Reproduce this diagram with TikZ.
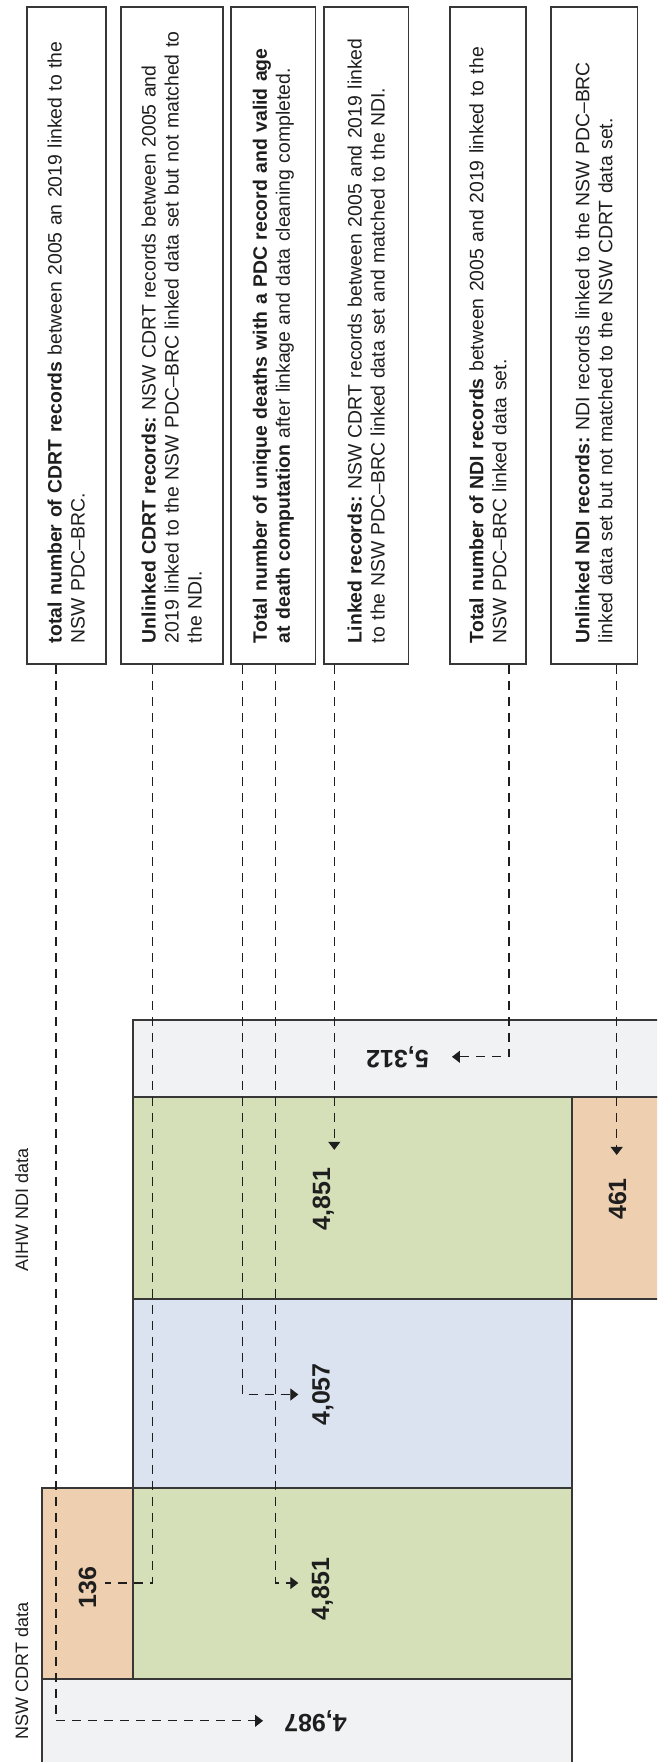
\documentclass[tikz,border=0pt]{standalone}
\usepackage{fontspec}
\setmainfont{Liberation Sans}
\usetikzlibrary{arrows.meta}
\definecolor{grayfill}{RGB}{241,242,244}
\definecolor{greenfill}{RGB}{213,224,185}
\definecolor{bluefill}{RGB}{219,226,240}
\definecolor{orangefill}{RGB}{238,208,176}
\definecolor{linec}{RGB}{55,55,55}
\definecolor{textc}{RGB}{30,30,30}
\frenchspacing
\begin{document}
\begin{tikzpicture}[x=1pt,y=-1pt,
  tbox/.style={draw=linec, line width=1.6pt, rotate=90, minimum width=657pt,
    text width=615pt, inner xsep=21pt, inner ysep=0pt, align=left, text=textc,
    font=\fontsize{19.4}{23}\selectfont},
  dbox/.style={draw=linec, line width=1.6pt},
  numlbl/.style={font=\fontsize{25}{30}\selectfont\bfseries, inner sep=0pt, text=textc},
  conn/.style={draw=textc, line width=1.1pt, dash pattern=on 9pt off 7pt},
  arrowtip/.style={-{Triangle[length=8pt,width=12pt]}},
  lab/.style={font=\fontsize{18}{22}\selectfont, rotate=90, anchor=base, text=textc}]
\useasboundingbox (0,0) rectangle (657,1762);
\clip (0,0) rectangle (657,1762);

% data boxes
\draw[dbox, fill=grayfill]   (41.7,1679)   rectangle (571.7,1800);
\draw[dbox, fill=orangefill] (41.7,1488)   rectangle (132.7,1679);
\draw[dbox, fill=greenfill]  (132.7,1488)  rectangle (571.7,1679);
\draw[dbox, fill=bluefill]   (132.7,1299)  rectangle (571.7,1488);
\draw[dbox, fill=greenfill]  (132.7,1096.7) rectangle (571.7,1299);
\draw[dbox, fill=orangefill] (571.7,1096.7) rectangle (700,1299);
\draw[dbox, fill=grayfill]   (132.7,1020)  rectangle (700,1096.7);

% axis labels
\node[lab] (lcdrt) at (28,1671) {NSW CDRT data};
\node[lab] (lndi) at (28,1210) {AIHW NDI data};

% text boxes
\node[tbox, minimum height=79pt] (b1) at (66.2,335.5)
 {\mbox{\textbf{total number of CDRT records} between 2005 an 2019 linked to the}\\
  \mbox{NSW PDC–BRC.}};
\node[tbox, minimum height=102pt] (b2) at (171.7,335.5)
 {\mbox{\textbf{Unlinked CDRT records:} NSW CDRT records between 2005 and}\\
  \mbox{2019 linked to the NSW PDC–BRC linked data set but not matched to}\\
  \mbox{the NDI.}};
\node[tbox, minimum height=84.7pt] (b3) at (273.3,335.5)
 {\mbox{\textbf{Total number of unique deaths with a PDC record and valid age}}\\
  \mbox{\textbf{at death computation} after linkage and data cleaning completed.}};
\node[tbox, minimum height=84.3pt] (b4) at (366.2,335.5)
 {\mbox{\textbf{Linked records:} NSW CDRT records between 2005 and 2019 linked}\\
  \mbox{to the NSW PDC–BRC linked data set and matched to the NDI.}};
\node[tbox, minimum height=76pt] (b5) at (488,335.5)
 {\mbox{\textbf{Total number of NDI records} between 2005 and 2019 linked to the}\\
  \mbox{NSW PDC–BRC linked data set.}};
\node[tbox, minimum height=86.6pt] (b6) at (594,335.5)
 {\mbox{\textbf{Unlinked NDI records:} NDI records linked to the NSW PDC–BRC}\\
  \mbox{linked data set but not matched to the NSW CDRT data set.}};

% numbers
\node[numlbl, rotate=180, anchor=base] (n4987) at (315.5,1714) {4,987};
\node[numlbl, rotate=90, anchor=base] (n136) at (96,1587.5) {136};
\node[numlbl, rotate=90, anchor=base] (n4851b) at (329,1589) {4,851};
\node[numlbl, rotate=90, anchor=base] (n4057) at (329.5,1394.5) {4,057};
\node[numlbl, rotate=90, anchor=base] (n4851a) at (330,1199) {4,851};
\node[numlbl, rotate=180, anchor=base] (n5312) at (397.5,1050) {5,312};
\node[numlbl, rotate=90, anchor=base] (n461) at (626,1199) {461};

% connector start points on the box edges
\coordinate (s1) at (56,0 |- b1.west);
\coordinate (s2) at (152.3,0 |- b2.west);
\coordinate (s3a) at (242.3,0 |- b3.west);
\coordinate (s3b) at (275.7,0 |- b3.west);
\coordinate (s4) at (334.3,0 |- b4.west);
\coordinate (s5) at (509,0 |- b5.west);
\coordinate (s6) at (616.7,0 |- b6.west);

% connectors
\draw[conn, arrowtip, shorten >=21pt] (s1) |- (n4987.east);
\draw[conn, shorten >=9pt] (s2) |- ([yshift=4.5pt]n136.south);
\draw[conn, arrowtip, shorten >=13.5pt] (s3a) |- (n4057.north);
\draw[conn, arrowtip, shorten >=13pt] (s3b) |- ([yshift=6pt]n4851b.north);
\draw[conn, arrowtip, shorten >=17.7pt] (s4) -- (s4 |- n4851a.east);
\draw[conn, arrowtip, shorten >=23pt] (s5) |- (n5312.west);
\draw[conn, arrowtip, shorten >=23pt] (s6) -- (s6 |- n461.east);
\end{tikzpicture}
\end{document}
